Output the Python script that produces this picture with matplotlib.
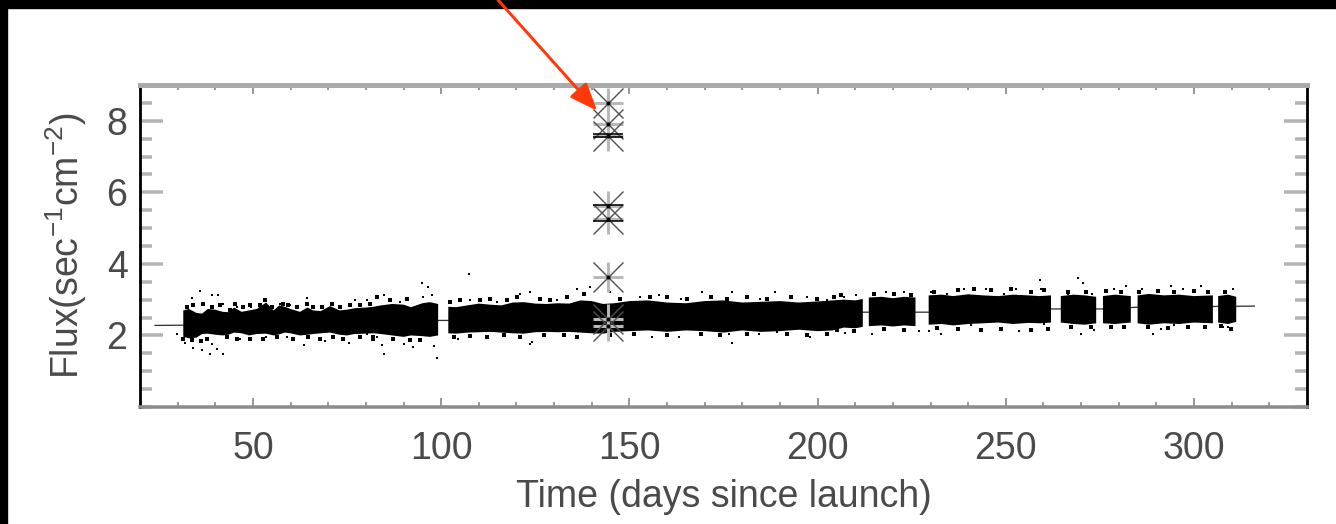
import numpy as np
import matplotlib
matplotlib.use('Agg')
import matplotlib.pyplot as plt
from matplotlib.ticker import FixedLocator, MultipleLocator
from matplotlib.patches import Rectangle

plt.rcParams['font.family'] = ['Liberation Sans', 'DejaVu Sans']
plt.rcParams['mathtext.default'] = 'regular'

nan = np.nan

# dense part of the light curve: lower / upper edge of the solid band, NaN = data gap
band_day = [31.5, 33, 35, 36.5, 38, 40, 42, 43.5, 45, 47, 49, 51, 53.5, 55.5, 57, 58.5, 60, 62.5,
            64.5, 66, 68, 70.5, 73, 75, 77, 80, 82, 84, 87, 90, 92, 95, 97, 99.2, nan,
            101.9, 104, 107, 110, 113, 116, 119, 122, 125, 128, 131, 134, 137, 140, 143,
            146, 150, 155, 160, 165, 170, 175, 180, 185, 190, 195, 200, 204, 207, 210, 212, nan,
            213.6, 217, 220, 223, 226, nan,
            229.5, 233, 236, 240, 244, 248, 252, 256, 259, 262, nan,
            264.6, 268, 271, 274, nan,
            275.8, 279, 283.2, nan,
            285, 288, 292, 296, 300, 305, nan,
            306.4, 309, 311.2]
band_hi = [2.70, 2.74, 2.63, 2.61, 2.74, 2.72, 2.66, 2.65, 2.78, 2.66, 2.70, 2.74, 2.92, 2.70, 2.84, 2.80, 2.74, 2.66,
           2.78, 2.70, 2.68, 2.82, 2.70, 2.72, 2.76, 2.78, 2.80, 2.84, 2.88, 2.86, 2.79, 2.90, 2.93, 2.88, nan,
           2.80, 2.79, 2.84, 2.89, 2.86, 2.84, 2.92, 2.93, 2.89, 2.88, 2.90, 2.89, 2.98, 2.96, 2.88,
           2.90, 2.96, 2.98, 2.92, 2.90, 2.96, 2.98, 2.92, 2.94, 2.96, 2.92, 2.95, 2.98, 3.00, 2.98, 3.02, nan,
           3.06, 3.08, 3.04, 3.08, 3.06, nan,
           3.12, 3.14, 3.10, 3.15, 3.12, 3.10, 3.14, 3.12, 3.10, 3.12, nan,
           3.10, 3.14, 3.12, 3.08, nan,
           3.10, 3.14, 3.10, nan,
           3.12, 3.16, 3.12, 3.14, 3.10, 3.12, nan,
           3.10, 3.14, 3.08]
band_lo = [1.96, 1.92, 1.94, 2.04, 2.05, 2.02, 2.00, 2.02, 2.08, 2.06, 2.00, 2.04, 2.05, 2.00, 2.03, 2.08, 2.06, 2.00,
           2.02, 2.04, 2.06, 2.08, 2.02, 2.00, 2.04, 2.05, 2.06, 2.04, 2.00, 1.96, 2.00, 1.98, 1.96, 2.00, nan,
           2.06, 2.05, 2.08, 2.09, 2.10, 2.08, 2.06, 2.05, 2.09, 2.10, 2.09, 2.10, 2.08, 2.06, 2.05,
           2.10, 2.12, 2.14, 2.10, 2.14, 2.12, 2.08, 2.14, 2.10, 2.12, 2.16, 2.12, 2.14, 2.22, 2.20, 2.24, nan,
           2.26, 2.28, 2.25, 2.28, 2.26, nan,
           2.30, 2.32, 2.28, 2.32, 2.34, 2.36, 2.32, 2.35, 2.34, 2.36, nan,
           2.36, 2.32, 2.30, 2.34, nan,
           2.34, 2.32, 2.36, nan,
           2.34, 2.30, 2.34, 2.32, 2.36, 2.34, nan,
           2.36, 2.32, 2.38]

# scattered points away from the band
out_day = [35.9, 33.7, 39.0, 40.8, 42.1, 36.8, 53.6, 64.3, 57.2, 59.8, 77.1, 80.2, 49.6, 45.7, 66.0, 73.1,
           29.7, 31.9, 34.1, 36.4, 39.0, 38.6, 40.4, 42.1, 46.5, 63.6, 69.1, 75.6, 80.2, 59.0, 53.6,
           107.5, 94.9, 96.6, 84.7, 95.3, 97.5, 89.1, 121.0, 123.7, 136.1, 139.6, 107.7, 114.8, 130.8,
           84.2, 84.7, 90.0, 92.6, 98.0, 98.8, 124.1, 104.6, 82.9, 123.7,
           144.9, 152.9, 157.8, 169.3, 177.3, 188.8, 163.6, 184.8, 197.3, 202.6,
           156.0, 163.1, 177.3, 176.4, 184.4, 198.1, 189.3,
           259.1, 207.0, 210.1, 218.1, 223.0, 230.0, 238.9, 244.7, 252.7, 259.3, 234.5, 249.5,
           207.4, 214.5, 226.9, 229.6, 232.7, 253.5, 260.2, 219.9, 240.7,
           269.2, 270.4, 281.9, 278.8, 293.9, 297.0, 301.9, 310.3, 286.1, 266.4, 273.0,
           270.0, 273.5, 289.0, 291.2, 307.6, 309.0, 294.8]
out_flux = [3.23, 3.05, 3.12, 3.12, 2.88, 2.88, 2.98, 3.05, 2.88, 2.84, 2.98, 2.98, 2.79, 2.79, 2.79, 2.79,
            2.05, 1.79, 1.66, 1.58, 1.77, 1.49, 1.63, 1.49, 1.91, 1.72, 1.84, 1.79, 2.05, 1.96, 1.96,
            3.72, 3.46, 3.35, 3.12, 3.07, 3.12, 2.93, 3.16, 3.21, 3.30, 3.35, 2.98, 2.93, 2.98,
            1.72, 1.49, 1.75, 1.68, 1.70, 1.38, 1.82, 1.91, 1.96, 1.77,
            3.21, 3.07, 3.12, 3.21, 3.21, 3.21, 3.02, 3.02, 3.07, 2.98,
            1.96, 1.96, 1.79, 2.05, 2.05, 1.96, 2.09,
            3.55, 3.07, 3.12, 3.21, 3.21, 3.21, 3.30, 3.30, 3.30, 3.30, 3.16, 3.16,
            2.07, 2.05, 2.12, 2.12, 2.05, 2.12, 2.31, 2.31, 2.28,
            3.61, 3.46, 3.38, 3.30, 3.38, 3.30, 3.38, 3.30, 3.30, 3.16, 3.16,
            2.05, 2.16, 2.05, 2.19, 2.23, 2.23, 2.28]

# points along the ragged edges of the band
edge_day = [32.4, 34.1, 36.8, 39.0, 41.2, 43.9, 45.2, 47.4, 49.2, 51.9, 53.2, 55.0, 58.1, 59.4, 61.6,
            64.3, 66.0, 68.3, 70.9, 73.1, 75.8, 78.5, 81.1,
            31.3, 33.9, 36.1, 37.7, 43.0, 45.7, 49.2, 52.7, 56.3, 60.7, 64.7, 67.8, 71.4, 74.0, 78.5, 82.0,
            82.9, 86.4, 90.9, 102.4, 105.1, 110.4, 113.0, 117.5, 120.1, 126.3, 129.0, 133.4, 137.9,
            82.0, 87.3, 91.7, 94.4, 103.3, 107.7, 112.2, 116.6, 121.0, 127.2, 132.5, 136.1,
            147.6, 155.6, 160.0, 165.3, 171.6, 176.0, 181.3, 186.6, 192.8, 199.9, 204.4,
            144.9, 151.2, 160.0, 168.9, 174.2, 181.3, 192.0, 197.2, 202.6,
            206.1, 215.0, 220.3, 224.7, 230.9, 237.2, 241.6, 246.1, 251.4, 256.7, 260.2,
            205.2, 209.6, 217.6, 222.9, 231.8, 237.2, 243.4, 248.7, 256.7, 261.1,
            266.4, 271.3, 276.6, 280.6, 285.5, 290.3, 294.8, 300.1, 303.7, 308.1,
            267.3, 272.6, 277.9, 281.5, 287.7, 293.0, 298.3, 302.8, 307.2, 309.9]
edge_flux = [2.79, 2.84, 2.88, 2.79, 2.84, 2.70, 2.88, 2.79, 2.84, 2.84, 2.98, 2.79, 2.88, 2.84, 2.79,
             2.88, 2.79, 2.79, 2.88, 2.79, 2.84, 2.84, 2.88,
             1.91, 1.86, 1.84, 1.90, 1.95, 1.90, 1.91, 1.90, 1.96, 1.90, 1.95, 1.90, 1.96, 1.90, 1.95, 1.90,
             3.07, 2.98, 3.02, 2.93, 2.98, 2.98, 3.02, 2.98, 3.07, 3.02, 2.98, 3.07, 3.16,
             1.96, 1.90, 1.88, 1.86, 1.95, 1.98, 1.95, 2.00, 1.95, 2.00, 2.00, 1.96,
             3.02, 3.07, 3.07, 3.02, 3.07, 3.02, 3.07, 3.02, 3.07, 3.02, 3.07,
             2.02, 2.05, 2.02, 2.05, 2.00, 2.05, 2.05, 2.00, 2.05,
             3.12, 3.16, 3.16, 3.12, 3.21, 3.26, 3.30, 3.26, 3.30, 3.21, 3.26,
             2.14, 2.12, 2.19, 2.14, 2.20, 2.19, 2.14, 2.19, 2.14, 2.19,
             3.21, 3.21, 3.24, 3.21, 3.21, 3.24, 3.21, 3.24, 3.21, 3.21,
             2.24, 2.23, 2.24, 2.24, 2.24, 2.22, 2.24, 2.23, 2.26, 2.19]

# baseline model
line_day = [24, 60, 95, 102, 150, 212, 229, 262, 276, 285, 316]
line_flux = [2.28, 2.31, 2.42, 2.42, 2.55, 2.65, 2.65, 2.74, 2.74, 2.79, 2.82]

# flare points (asterisks)
flare_day = 144.3
flare_flux = [8.49, 7.91, 7.57, 5.63, 5.25, 3.63, 2.47, 2.27]
flare_bar_flux = [7.62, 7.55, 5.65, 5.21]

W, H = 1336, 524
px = 72 / 100  # points per pixel
txt = '#4a4a4a'

fig = plt.figure(figsize=(W / 100, H / 100), dpi=100)
ax = fig.add_axes([140 / W, 117 / H, 1167 / W, 322 / H])

ax.plot(line_day, line_flux, color='#333333', lw=1.3 * px, zorder=2)

ax.fill_between(band_day, band_lo, band_hi, color='black', lw=0, zorder=3)
ax.plot(out_day, out_flux, 's', color='black', ms=2.6 * px, mew=0, zorder=3)
ax.plot(edge_day, edge_flux, 's', color='black', ms=3.2 * px, mew=0, zorder=3)

fx = [flare_day] * len(flare_flux)
ax.plot(fx, flare_flux, '+', color='#b8b8b8', ms=30 * px, mew=3 * px, zorder=4)
ax.plot(fx, flare_flux, 'x', color='#505050', ms=30 * px, mew=1.4 * px, zorder=5)
ax.plot([flare_day] * len(flare_bar_flux), flare_bar_flux, '_', color='black',
        ms=30 * px, mew=1.6 * px, zorder=5)
ax.plot(fx, flare_flux, 'o', color='black', ms=4 * px, mew=0, zorder=6)

ax.set_xlim(20, 330)
ax.set_ylim(0, 9)

ax.xaxis.set_major_locator(MultipleLocator(50))
ax.xaxis.set_minor_locator(MultipleLocator(10))
ax.yaxis.set_major_locator(FixedLocator([2, 4, 6, 8]))
ax.yaxis.set_minor_locator(MultipleLocator(0.5))

ax.tick_params(axis='x', which='both', direction='in', top=True, bottom=True,
               colors='#999999', labelcolor=txt, labelsize=27, pad=17)
ax.tick_params(axis='x', which='major', length=9 * px, width=2 * px)
ax.tick_params(axis='x', which='minor', length=5 * px, width=2 * px)
ax.tick_params(axis='y', which='both', direction='in', left=True, right=True,
               colors='#b4b4b4', labelcolor=txt, labelsize=27, pad=9)
ax.tick_params(axis='y', which='major', length=23 * px, width=3.5 * px)
ax.tick_params(axis='y', which='minor', length=12 * px, width=3.5 * px)

ax.spines['left'].set_color('black')
ax.spines['left'].set_linewidth(2.8 * px)
ax.spines['right'].set_color('black')
ax.spines['right'].set_linewidth(2.8 * px)
ax.spines['top'].set_color('#aaaaaa')
ax.spines['top'].set_linewidth(5 * px)
ax.spines['bottom'].set_color('#8c8c8c')
ax.spines['bottom'].set_linewidth(3.5 * px)

ax.set_xlabel('Time (days since launch)', fontsize=27, color=txt, labelpad=9)
ax.set_ylabel('Flux(sec$^{-1}$cm$^{-2}$)', fontsize=27, color=txt, labelpad=13)

# red arrow pointing at the flare peak
ax.annotate('', xy=(flare_day - 2.9, flare_flux[0] - 0.21), xycoords='data',
            xytext=(498, H), textcoords='figure pixels', annotation_clip=False,
            arrowprops=dict(arrowstyle='-|>,head_length=0.7,head_width=0.28',
                            mutation_scale=24, color='#ff3a0a', lw=3 * px,
                            shrinkA=0, shrinkB=0), zorder=10)

# black frame strips at the top and left edge
fig.add_artist(Rectangle((0, 1 - 8 / H), 1, 8 / H, transform=fig.transFigure,
                         color='black', zorder=0))
fig.add_artist(Rectangle((0, 0), 7 / W, 1, transform=fig.transFigure,
                         color='black', zorder=0))

fig.savefig('out.png', dpi=100, facecolor='white')
